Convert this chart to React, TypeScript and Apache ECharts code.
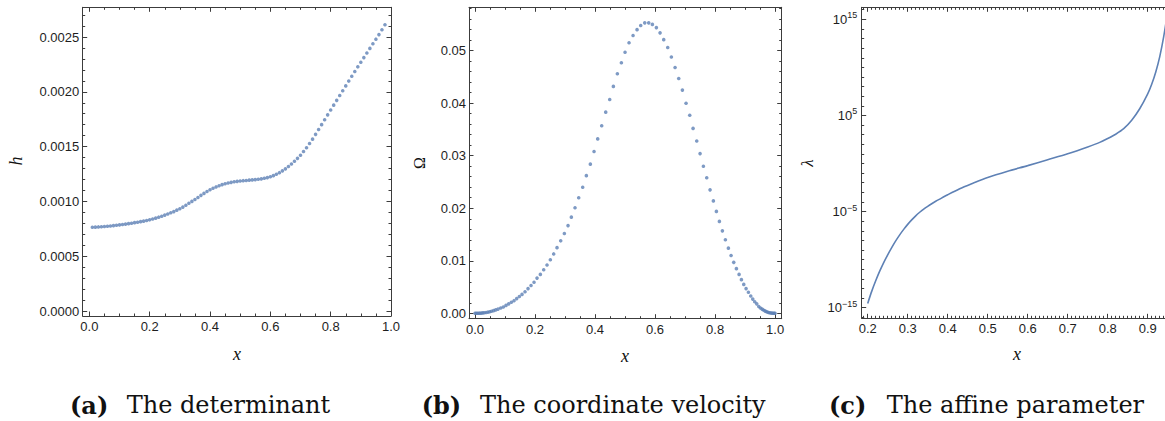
import { useEffect, useRef } from "react";
import * as echarts from "echarts";

// ---------- Panel (a): the determinant h(x) ----------
const detX = [
  0.01, 0.02, 0.03, 0.04, 0.05, 0.06, 0.07, 0.08, 0.09, 0.1,
  0.11, 0.12, 0.13, 0.14, 0.15, 0.16, 0.17, 0.18, 0.19, 0.2,
  0.21, 0.22, 0.23, 0.24, 0.25, 0.26, 0.27, 0.28, 0.29, 0.3,
  0.31, 0.32, 0.33, 0.34, 0.35, 0.36, 0.37, 0.38, 0.39, 0.4,
  0.41, 0.42, 0.43, 0.44, 0.45, 0.46, 0.47, 0.48, 0.49, 0.5,
  0.51, 0.52, 0.53, 0.54, 0.55, 0.56, 0.57, 0.58, 0.59, 0.6,
  0.61, 0.62, 0.63, 0.64, 0.65, 0.66, 0.67, 0.68, 0.69, 0.7,
  0.71, 0.72, 0.73, 0.74, 0.75, 0.76, 0.77, 0.78, 0.79, 0.8,
  0.81, 0.82, 0.83, 0.84, 0.85, 0.86, 0.87, 0.88, 0.89, 0.9,
  0.91, 0.92, 0.93, 0.94, 0.95, 0.96, 0.97, 0.98,
];
const detH = [
  0.000764, 0.000765, 0.000767, 0.000769, 0.000771, 0.000773, 0.000776, 0.000779, 0.000782, 0.000786,
  0.000789, 0.000793, 0.000797, 0.000801, 0.000806, 0.00081, 0.000815, 0.00082, 0.000826, 0.000832,
  0.000839, 0.000847, 0.000856, 0.000865, 0.000875, 0.000885, 0.000896, 0.000907, 0.00092, 0.000933,
  0.000948, 0.000965, 0.000983, 0.001, 0.001017, 0.001036, 0.001055, 0.001073, 0.00109, 0.001106,
  0.00112, 0.001132, 0.001143, 0.001153, 0.001161, 0.001168, 0.001174, 0.001179, 0.001183, 0.001186,
  0.001189, 0.001191, 0.001194, 0.001196, 0.001199, 0.001202, 0.001206, 0.001211, 0.001217, 0.001225,
  0.001235, 0.001248, 0.001262, 0.001279, 0.001297, 0.001318, 0.001341, 0.001366, 0.001393, 0.001421,
  0.001455, 0.00149, 0.001528, 0.001568, 0.001612, 0.001656, 0.0017, 0.001745, 0.00179, 0.001834,
  0.001878, 0.001922, 0.001966, 0.00201, 0.002054, 0.002098, 0.002142, 0.002185, 0.002228, 0.00227,
  0.002312, 0.002354, 0.002396, 0.002438, 0.00248, 0.002522, 0.002566, 0.002612,
];
const aXTicks = [0, 0.2, 0.4, 0.6, 0.8, 1.0];
const aYTicks = [0, 0.0005, 0.001, 0.0015, 0.002, 0.0025];

// ---------- Panel (b): the coordinate velocity Omega(x) ----------
const velX = [
  0, 0.004, 0.008, 0.012, 0.016, 0.021, 0.026, 0.031, 0.037, 0.043,
  0.049, 0.055, 0.062, 0.069, 0.0767, 0.0856, 0.0944, 0.1033, 0.1122, 0.1211,
  0.13, 0.1389, 0.1478, 0.1567, 0.1667, 0.1767, 0.1867, 0.1967, 0.2067, 0.2178,
  0.2289, 0.24, 0.2511, 0.2622, 0.2733, 0.2856, 0.2978, 0.31, 0.3211, 0.3333,
  0.3456, 0.3589, 0.3711, 0.3844, 0.3967, 0.4089, 0.4222, 0.4356, 0.4489, 0.4611,
  0.4744, 0.4878, 0.5, 0.5133, 0.5267, 0.54, 0.5522, 0.5656, 0.5789, 0.5911,
  0.6044, 0.6167, 0.6289, 0.6422, 0.6544, 0.6667, 0.6789, 0.6911, 0.7033, 0.7156,
  0.7267, 0.7389, 0.75, 0.7611, 0.7722, 0.7833, 0.7944, 0.8044, 0.8144, 0.8244,
  0.8344, 0.8444, 0.8533, 0.8622, 0.8711, 0.88, 0.8878, 0.8956, 0.9033, 0.9111,
  0.9189, 0.9256, 0.9322, 0.9389, 0.9456, 0.9511, 0.9567, 0.961, 0.966, 0.97,
  0.974, 0.978, 0.982, 0.986, 0.99, 0.994, 0.997, 1.0,
];
const velOmega = [
  0, 0.000001, 0.000004, 0.00001, 0.00002, 0.00004, 0.00007, 0.0001, 0.00015, 0.00021,
  0.00029, 0.00038, 0.0005, 0.00064, 0.0008, 0.001, 0.0012, 0.0015, 0.0018, 0.0021,
  0.0024, 0.0028, 0.0032, 0.0036, 0.0041, 0.0047, 0.0053, 0.0059, 0.0067, 0.0074,
  0.0083, 0.0092, 0.0102, 0.0113, 0.0125, 0.0138, 0.0152, 0.0167, 0.0183, 0.0201,
  0.022, 0.024, 0.0262, 0.0284, 0.0308, 0.0332, 0.0357, 0.0383, 0.0407, 0.0432,
  0.0456, 0.0477, 0.0497, 0.0515, 0.0529, 0.054, 0.0548, 0.0553, 0.0553, 0.055,
  0.0544, 0.0534, 0.0521, 0.0506, 0.0488, 0.0468, 0.0447, 0.0425, 0.04, 0.0377,
  0.0352, 0.0328, 0.0304, 0.028, 0.0258, 0.0235, 0.0214, 0.0194, 0.0175, 0.0157,
  0.014, 0.0124, 0.011, 0.0097, 0.0085, 0.0074, 0.0064, 0.0055, 0.0047, 0.004,
  0.0033, 0.0027, 0.0022, 0.0018, 0.0013, 0.001, 0.0008, 0.00062, 0.00046, 0.00034,
  0.00024, 0.00016, 0.0001, 0.00006, 0.00003, 0.00001, 0.000003, 0,
];
const bXTicks = [0, 0.2, 0.4, 0.6, 0.8, 1.0];
const bYTicks = [0, 0.01, 0.02, 0.03, 0.04, 0.05];

// ---------- Panel (c): the affine parameter lambda(x), stored as log10(lambda) ----------
const affX = [
  0.2, 0.21, 0.22, 0.23, 0.24, 0.25, 0.26, 0.27, 0.28, 0.29,
  0.3, 0.31, 0.32, 0.33, 0.34, 0.35, 0.36, 0.37, 0.38, 0.4,
  0.43, 0.46, 0.5, 0.55, 0.6, 0.65, 0.7, 0.75, 0.78, 0.8,
  0.82, 0.84, 0.86, 0.88, 0.9, 0.91, 0.92, 0.93, 0.94, 0.95,
];
const affLog10Lambda = [
  -14.55, -13.3, -12.2, -11.2, -10.3, -9.5, -8.75, -8.05, -7.42, -6.85,
  -6.33, -5.86, -5.44, -5.07, -4.74, -4.45, -4.18, -3.93, -3.7, -3.25,
  -2.62, -2.1, -1.45, -0.8, -0.22, 0.4, 1.02, 1.73, 2.2, 2.6,
  3.05, 3.62, 4.5, 5.7, 7.25, 8.25, 9.5, 11.1, 13.2, 15.8,
];
const cXTicks = [0.2, 0.3, 0.4, 0.5, 0.6, 0.7, 0.8, 0.9];
const cYTicks = [-15, -5, 5, 15];

const FRAME = "#3c3c3c";
const LABEL = "#1e1e1e";
const BLUE = "#5E81B5";
const SANS = "'Liberation Sans', Arial, sans-serif";
const SERIF = "'DejaVu Serif', serif";
const MATH = "'Liberation Serif', 'Times New Roman', serif";

function minorTicks(min: number, max: number, step: number, major: number[]) {
  const out: number[] = [];
  const n0 = Math.ceil(min / step - 1e-9);
  const n1 = Math.floor(max / step + 1e-9);
  for (let n = n0; n <= n1; n++) {
    const v = +(n * step).toFixed(10);
    if (!major.some((m) => Math.abs(m - v) < step * 1e-3)) out.push(v);
  }
  return out;
}

function frameAxes(
  dim: "x" | "y",
  gridIndex: number,
  min: number,
  max: number,
  major: number[],
  minorStep: number,
  formatter: any,
  margin: number,
  rich?: any
) {
  const minor = minorTicks(min, max, minorStep, major);
  const posA = dim === "x" ? "bottom" : "left";
  const posB = dim === "x" ? "top" : "right";
  const base = { type: "value", gridIndex, min, max, splitLine: { show: false } };
  const line = (show: boolean) => ({ show, onZero: false, lineStyle: { color: FRAME, width: 1 } });
  const tick = (vals: number[], length: number) => ({
    show: true,
    inside: true,
    length,
    customValues: vals,
    lineStyle: { color: FRAME, width: 1 },
  });
  return [
    {
      ...base,
      position: posA,
      axisLine: line(true),
      axisTick: tick(major, 4.5),
      axisLabel: {
        show: true,
        customValues: major,
        formatter,
        margin,
        fontSize: 13,
        color: LABEL,
        fontFamily: SANS,
        rich,
      },
    },
    { ...base, position: posA, axisLine: line(false), axisTick: tick(minor, 2.5), axisLabel: { show: false } },
    { ...base, position: posB, axisLine: line(true), axisTick: tick(major, 4.5), axisLabel: { show: false } },
    { ...base, position: posB, axisLine: line(false), axisTick: tick(minor, 2.5), axisLabel: { show: false } },
  ];
}

const sup = (v: number) => `{a|10}{b|${v < 0 ? "\u2212" : ""}${Math.abs(v)}}`;

export default function App() {
  const ref = useRef<HTMLDivElement>(null);
  useEffect(() => {
    if (!ref.current) return;
    const chart = echarts.init(ref.current, null, { renderer: "svg" });
    const fmt1 = (v: number) => v.toFixed(1);
    const xAxis = [
      ...frameAxes("x", 0, -0.022, 1.0, aXTicks, 0.05, fmt1, 4),
      ...frameAxes("x", 1, -0.02, 1.022, bXTicks, 0.05, fmt1, 4),
      ...frameAxes("x", 2, 0.185, 0.96, cXTicks, 0.01, fmt1, 4),
    ];
    const yAxis = [
      ...frameAxes("y", 0, -0.0000456, 0.002771, aYTicks, 0.0001, (v: number) => v.toFixed(4), 3.5),
      ...frameAxes("y", 1, -0.00103, 0.05826, bYTicks, 0.002, (v: number) => v.toFixed(2), 3),
      ...frameAxes("y", 2, -16.1, 16.25, cYTicks, 1, sup, 4.5, {
        a: { fontSize: 13, fontFamily: SANS, color: LABEL },
        b: { fontSize: 9, fontFamily: SANS, color: LABEL, padding: [0, 0, 8, 0] },
      }),
    ];
    const capY = 405;
    const option: any = {
      animation: false,
      grid: [
        { left: 82.7, top: 7.3, width: 308.3, height: 308.7, outerBoundsMode: "none", containLabel: false },
        { left: 469, top: 7.3, width: 312.7, height: 311.4, outerBoundsMode: "none", containLabel: false },
        { left: 861.7, top: 7.3, width: 310, height: 311, outerBoundsMode: "none", containLabel: false },
      ],
      xAxis,
      yAxis,
      series: [
        {
          type: "scatter",
          xAxisIndex: 0,
          yAxisIndex: 0,
          symbolSize: 3.6,
          itemStyle: { color: BLUE },
          data: detX.map((x, i) => [x, detH[i]]),
        },
        {
          type: "scatter",
          xAxisIndex: 4,
          yAxisIndex: 4,
          symbolSize: 3.6,
          itemStyle: { color: BLUE },
          data: velX.map((x, i) => [x, velOmega[i]]),
        },
        {
          type: "line",
          xAxisIndex: 8,
          yAxisIndex: 8,
          showSymbol: false,
          smooth: 0.25,
          clip: true,
          lineStyle: { color: BLUE, width: 1.6 },
          data: affX.map((x, i) => [x, affLog10Lambda[i]]),
        },
      ],
      graphic: [
        { type: "text", x: 16, y: 161, rotation: Math.PI / 2, style: { text: "h", font: `italic 18px ${MATH}`, fill: "#111", align: "center", verticalAlign: "middle" } },
        { type: "text", x: 419, y: 163, rotation: Math.PI / 2, style: { text: "Ω", font: `16px ${MATH}`, fill: "#111", align: "center", verticalAlign: "middle" } },
        { type: "text", x: 807, y: 163, rotation: Math.PI / 2, style: { text: "λ", font: `italic 17px ${MATH}`, fill: "#111", align: "center", verticalAlign: "middle" } },
        { type: "text", x: 237, y: 354, style: { text: "x", font: `italic 18px ${MATH}`, fill: "#111", align: "center", verticalAlign: "middle" } },
        { type: "text", x: 625, y: 356, style: { text: "x", font: `italic 18px ${MATH}`, fill: "#111", align: "center", verticalAlign: "middle" } },
        { type: "text", x: 1017, y: 354, style: { text: "x", font: `italic 18px ${MATH}`, fill: "#111", align: "center", verticalAlign: "middle" } },
        { type: "text", x: 70, y: capY, style: { text: "(a)", font: `bold 24px ${SERIF}`, fill: "#111", align: "left", verticalAlign: "middle" } },
        { type: "text", x: 126.7, y: capY, style: { text: "The determinant", font: `24px ${SERIF}`, fill: "#111", align: "left", verticalAlign: "middle" } },
        { type: "text", x: 421.7, y: capY, style: { text: "(b)", font: `bold 24px ${SERIF}`, fill: "#111", align: "left", verticalAlign: "middle" } },
        { type: "text", x: 480, y: capY, style: { text: "The coordinate velocity", font: `24px ${SERIF}`, fill: "#111", align: "left", verticalAlign: "middle" } },
        { type: "text", x: 829, y: capY, style: { text: "(c)", font: `bold 24px ${SERIF}`, fill: "#111", align: "left", verticalAlign: "middle" } },
        { type: "text", x: 886.7, y: capY, style: { text: "The affine parameter", font: `24px ${SERIF}`, fill: "#111", align: "left", verticalAlign: "middle" } },
      ],
    };
    chart.setOption(option);
    return () => chart.dispose();
  }, []);
  return (
    <div
      ref={ref}
      style={{ position: "absolute", left: 0, top: 0, width: 1165, height: 421, background: "#fff" }}
    />
  );
}
